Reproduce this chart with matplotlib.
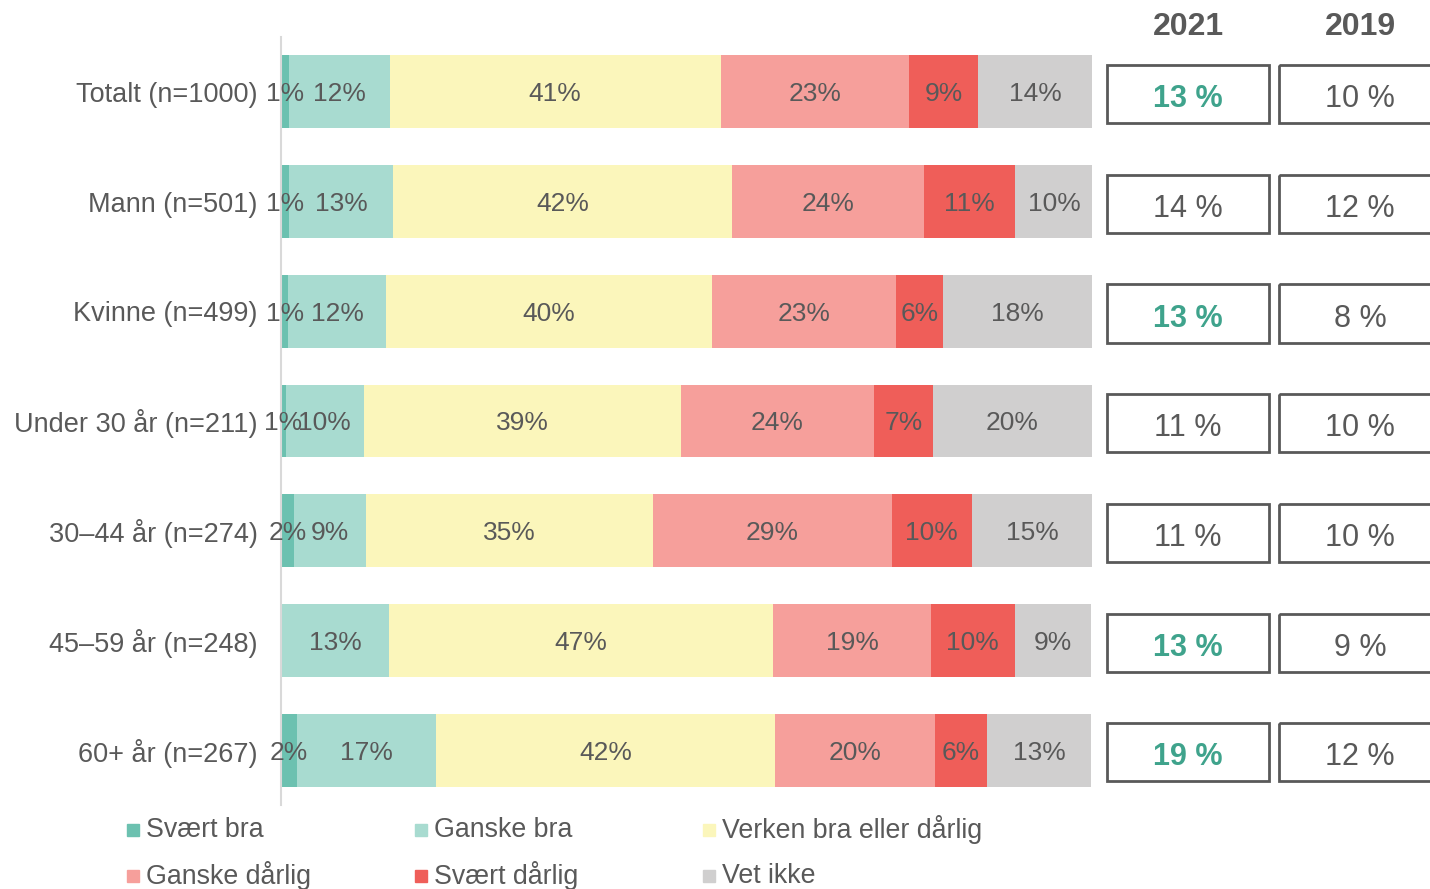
import matplotlib
matplotlib.use('Agg')
import matplotlib.pyplot as plt
from matplotlib.patches import Rectangle
import numpy as np

plt.rcParams['font.family'] = ['Liberation Sans', 'DejaVu Sans']

groups = ['Totalt (n=1000)', 'Mann (n=501)', 'Kvinne (n=499)', 'Under 30 år (n=211)',
          '30–44 år (n=274)', '45–59 år (n=248)', '60+ år (n=267)']
categories = ['Svært bra', 'Ganske bra', 'Verken bra eller dårlig',
              'Ganske dårlig', 'Svært dårlig', 'Vet ikke']
colors = ['#6CC1B0', '#A8DBD0', '#FBF6BB', '#F69F9B', '#EF5E59', '#D0CFCF']

# shares per group (labels are the rounded values)
svaert_bra = [1.0, 1.0, 0.9, 0.6, 1.6, 0.0, 2.0]
ganske_bra = [12.4, 12.8, 12.1, 9.6, 8.9, 13.3, 17.1]
verken = [40.8, 41.8, 40.1, 39.1, 35.4, 47.4, 41.8]
ganske_darlig = [23.2, 23.7, 22.7, 23.8, 29.4, 19.4, 19.7]
svaert_darlig = [8.6, 11.2, 5.8, 7.3, 9.9, 10.4, 6.4]
vet_ikke = [14.0, 9.6, 18.4, 19.6, 14.8, 9.4, 12.9]
series = [svaert_bra, ganske_bra, verken, ganske_darlig, svaert_darlig, vet_ikke]

# side boxes: good share 2021 vs 2019
years = ['2021', '2019']
good_2021 = [13, 14, 13, 11, 11, 13, 19]
good_2019 = [10, 12, 8, 10, 10, 9, 12]
highlight_2021 = [True, False, True, False, False, True, True]

TXT = '#595959'
GREEN = '#3FA38C'

W, H = 1430, 889
fig = plt.figure(figsize=(W / 100, H / 100), dpi=100)

ax = fig.add_axes([281 / W, 1 - 805 / H, (1092 - 281) / W, (805 - 37) / H])
y = np.arange(len(groups))
left = np.zeros(len(groups))
for vals, col in zip(series, colors):
    vals = np.array(vals)
    bars = ax.barh(y, vals, left=left, height=0.665, color=col, linewidth=0)
    for b, v in zip(bars, vals):
        if v > 0:
            ax.text(b.get_x() + b.get_width() / 2, b.get_y() + b.get_height() / 2,
                    '%d%%' % round(v), ha='center', va='center_baseline',
                    fontsize=19, color=TXT)
    left += vals

ax.set_xlim(0, 100)
ax.set_ylim(len(groups) - 0.5, -0.5)
ax.set_yticks(y)
ax.set_yticklabels(groups, fontsize=19.5, color=TXT)
ax.tick_params(axis='y', length=0, pad=17)
ax.set_xticks([])
for s in ['top', 'right', 'bottom']:
    ax.spines[s].set_visible(False)
ax.spines['left'].set_color('#D9D9D9')
ax.spines['left'].set_linewidth(1.5)

# boxes on the right, in pixel x-coordinates
axb = fig.add_axes([1100 / W, 1 - 805 / H, 330 / W, (805 - 37) / H], sharey=ax)
axb.set_xlim(1100, 1430)
axb.axis('off')
box_h = 0.53
for i in range(len(groups)):
    for x0, val, hl in [(1107, good_2021[i], highlight_2021[i]), (1279, good_2019[i], False)]:
        axb.add_patch(Rectangle((x0, i - box_h / 2 + 0.02), 162, box_h, fill=False,
                                edgecolor=TXT, linewidth=2, clip_on=False))
        axb.text(x0 + 81, i + 0.035, '%d %%' % val, ha='center', va='center_baseline',
                 fontsize=22, color=GREEN if hl else TXT,
                 fontweight='bold' if hl else 'normal')

for xc, yr in zip([1188, 1360], years):
    fig.text(xc / W, 1 - 27 / H, yr, ha='center', va='center', fontsize=23,
             fontweight='bold', color=TXT)

# legend laid out row-wise, three per row
for k, (name, col) in enumerate(zip(categories, colors)):
    cx = [127, 415, 703][k % 3]
    cy = [830, 876][k // 3]
    fig.patches.append(Rectangle((cx / W, 1 - (cy + 6) / H), 12 / W, 12 / H,
                                 transform=fig.transFigure, color=col, figure=fig))
    fig.text((cx + 19) / W, 1 - cy / H, name, ha='left', va='center', fontsize=19.3,
             color=TXT)

fig.savefig('out.png', dpi=100)
